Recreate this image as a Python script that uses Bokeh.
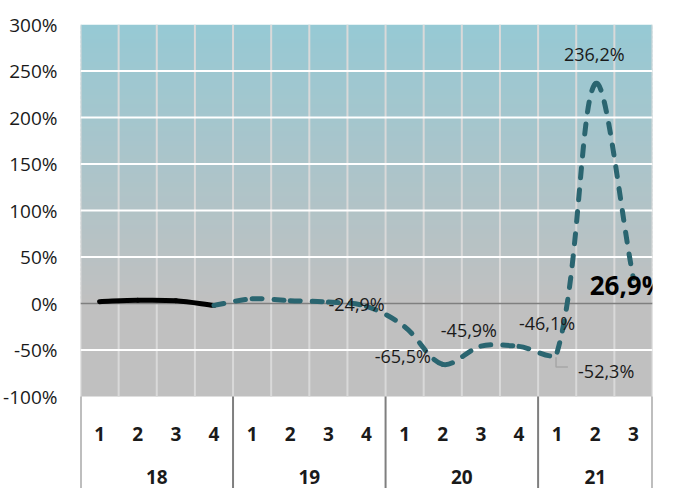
import numpy as np
from bokeh.plotting import figure
from bokeh.models import Range1d, FixedTicker, PrintfTickFormatter, ColumnDataSource, Label
from bokeh.core.properties import value
from bokeh.embed import file_html
from bokeh.resources import INLINE

# ---------------- data ----------------
years = ["18", "19", "20", "21"]
quarters_per_year = [4, 4, 4, 3]
quarter_labels = ["1", "2", "3", "4", "1", "2", "3", "4", "1", "2", "3", "4", "1", "2", "3"]
growth = [2.0, 3.5, 3.0, -2.0, 5.0, 3.0, 1.5, -3.0, -24.9, -65.5, -45.9, -46.1, -52.3, 236.2, 26.9]
solid_last = 3            # black solid part: 18Q1..18Q4, dashed from 18Q4 on
label_idx = [8, 9, 10, 11, 12, 13]
label_text = ["-24,9%", "-65,5%", "-45,9%", "-46,1%", "-52,3%", "236,2%"]
last_label = "26,9%"
y_ticks = [-100, -50, 0, 50, 100, 150, 200, 250, 300]

# ---------------- layout ----------------
W, H = 664, 488
TOP, LEFT, RIGHT = 24, 76, 12
PX_PER_UNIT = 0.93                     # pixels per 1 %
Y_MAX = 300
Y_MIN = Y_MAX - (H - TOP) / PX_PER_UNIT
N = len(growth)
PX_PER_CAT = (W - LEFT - RIGHT) / N
FONT = value("Open Sans")

def y_at(fig_y):
    return Y_MAX - (fig_y - TOP) / PX_PER_UNIT

p = figure(width=W, height=H, output_backend="svg", toolbar_location=None,
           x_range=Range1d(0, N), y_range=Range1d(Y_MIN, Y_MAX),
           x_axis_location=None, min_border_left=LEFT, min_border_right=RIGHT,
           min_border_top=TOP, min_border_bottom=0)
p.outline_line_color = None
p.xgrid.visible = False
p.ygrid.visible = False
p.background_fill_color = "white"
p.border_fill_color = "white"

# y axis
ax = p.yaxis[0]
ax.ticker = FixedTicker(ticks=y_ticks)
ax.formatter = PrintfTickFormatter(format="%d%%")
ax.axis_line_color = None
ax.major_tick_line_color = None
ax.minor_tick_line_color = None
ax.major_label_standoff = 17
ax.major_label_text_font = "Open Sans"
ax.major_label_text_font_size = "19px"
ax.major_label_text_color = "#1a1a1a"

# gradient background (0 .. 300 from grey to light teal), flat grey below 0
bottom_c = np.array([192, 192, 192])
top_c = np.array([150, 201, 212])
nb = 60
edges = np.linspace(0, Y_MAX, nb + 1)
cols = []
for k in range(nb):
    t = (k + 0.5) / nb
    c = (bottom_c + (top_c - bottom_c) * t).round().astype(int)
    cols.append("#%02x%02x%02x" % tuple(c))
tops = np.minimum(edges[1:] + 3, Y_MAX)
p.quad(left=0, right=N, bottom=edges[:-1], top=tops, fill_color=cols, line_color=None)
p.quad(left=0, right=N, bottom=y_ticks[0], top=1, fill_color="#c0c0c0", line_color=None)

# vertical gridlines at category boundaries
xb = list(range(N + 1))
p.segment(x0=xb, y0=y_ticks[0], x1=xb, y1=Y_MAX, line_color="#d9d9d9", line_width=2)
# horizontal white gridlines
hy = [t for t in y_ticks if t not in (y_ticks[0], 0, Y_MAX)]
p.segment(x0=0, y0=hy, x1=N, y1=hy, line_color="white", line_width=2)
# zero line
p.segment(x0=[0], y0=[0], x1=[N], y1=[0], line_color="#7f7f7f", line_width=1.5)

# year separators under the plot
bounds = [0]
for q in quarters_per_year:
    bounds.append(bounds[-1] + q)
p.segment(x0=bounds, y0=y_ticks[0], x1=bounds, y1=Y_MIN, line_color="#7f7f7f", line_width=2)

# category labels
xc = [i + 0.5 for i in range(N)]
p.text(x=xc, y=[y_at(433)] * N, text=quarter_labels, text_font=FONT, text_font_size="19px",
       text_font_style="bold", text_align="center", text_baseline="middle", text_color="#1a1a1a")
ymid = [(bounds[k] + bounds[k + 1]) / 2 for k in range(len(years))]
p.text(x=ymid, y=[y_at(476)] * len(years), text=years, text_font=FONT, text_font_size="19px",
       text_font_style="bold", text_align="center", text_baseline="middle", text_color="#1a1a1a")

# smooth curve (Excel-like): tangent from neighbours, split by adjacent
# segment lengths measured in screen pixels
def bez(xs, ys, f=1/3):
    X = np.array(xs) * PX_PER_CAT
    Y = np.array(ys) * PX_PER_UNIT
    P = np.stack([X, Y], axis=1)
    n = len(P)
    cin = [P[i].copy() for i in range(n)]
    cout = [P[i].copy() for i in range(n)]
    for i in range(n):
        a = max(i - 1, 0); b = min(i + 1, n - 1)
        d0 = np.hypot(*(P[i] - P[a])); d1 = np.hypot(*(P[b] - P[i]))
        tot = d0 + d1
        if tot == 0:
            continue
        v = P[b] - P[a]
        cin[i] = P[i] - v * f * d0 / tot
        cout[i] = P[i] + v * f * d1 / tot
    out = dict(x0=[], y0=[], x1=[], y1=[], cx0=[], cy0=[], cx1=[], cy1=[])
    for i in range(n - 1):
        out["x0"].append(xs[i]); out["y0"].append(ys[i])
        out["x1"].append(xs[i + 1]); out["y1"].append(ys[i + 1])
        out["cx0"].append(cout[i][0] / PX_PER_CAT); out["cy0"].append(cout[i][1] / PX_PER_UNIT)
        out["cx1"].append(cin[i + 1][0] / PX_PER_CAT); out["cy1"].append(cin[i + 1][1] / PX_PER_UNIT)
    return ColumnDataSource(out)

solid = bez(xc[:solid_last + 1], growth[:solid_last + 1])
dashed = bez(xc[solid_last:], growth[solid_last:])
p.bezier(x0="x0", y0="y0", x1="x1", y1="y1", cx0="cx0", cy0="cy0", cx1="cx1", cy1="cy1",
         source=solid, line_color="black", line_width=5, line_cap="round")
p.bezier(x0="x0", y0="y0", x1="x1", y1="y1", cx0="cx0", cy0="cy0", cx1="cx1", cy1="cy1",
         source=dashed, line_color="#2a6570", line_width=5, line_cap="round", line_dash="10 12")

# data labels
lx = [xc[i] for i in label_idx]
ly = [growth[i] for i in label_idx]
dx = [-48, -40, -12, 28, 49, -1]
dy = [-23, -8, -16, -23, 19, -30]
p.text(x=lx, y=ly, text=label_text, x_offset=dx, y_offset=dy, text_font=FONT,
       text_font_size="18px", text_align="center", text_baseline="middle", text_color="#1a1a1a")
p.add_layout(Label(x=xc[-1], y=growth[-1], text=last_label, x_offset=-6, y_offset=-7,
                   text_font="Open Sans", text_font_size="26px", text_font_style="bold",
                   text_align="center", text_baseline="middle", text_color="#000000"))

# leader line for the -52,3% label
li = label_idx[4]
lxp = xc[li] - 0.03
p.line(x=[lxp, lxp, lxp + 0.31], y=[growth[li] - 5.4, growth[li] - 16, growth[li] - 16],
       line_color="#a6a6a6", line_width=1.5)

open("out.html", "w").write(file_html(p, INLINE))
